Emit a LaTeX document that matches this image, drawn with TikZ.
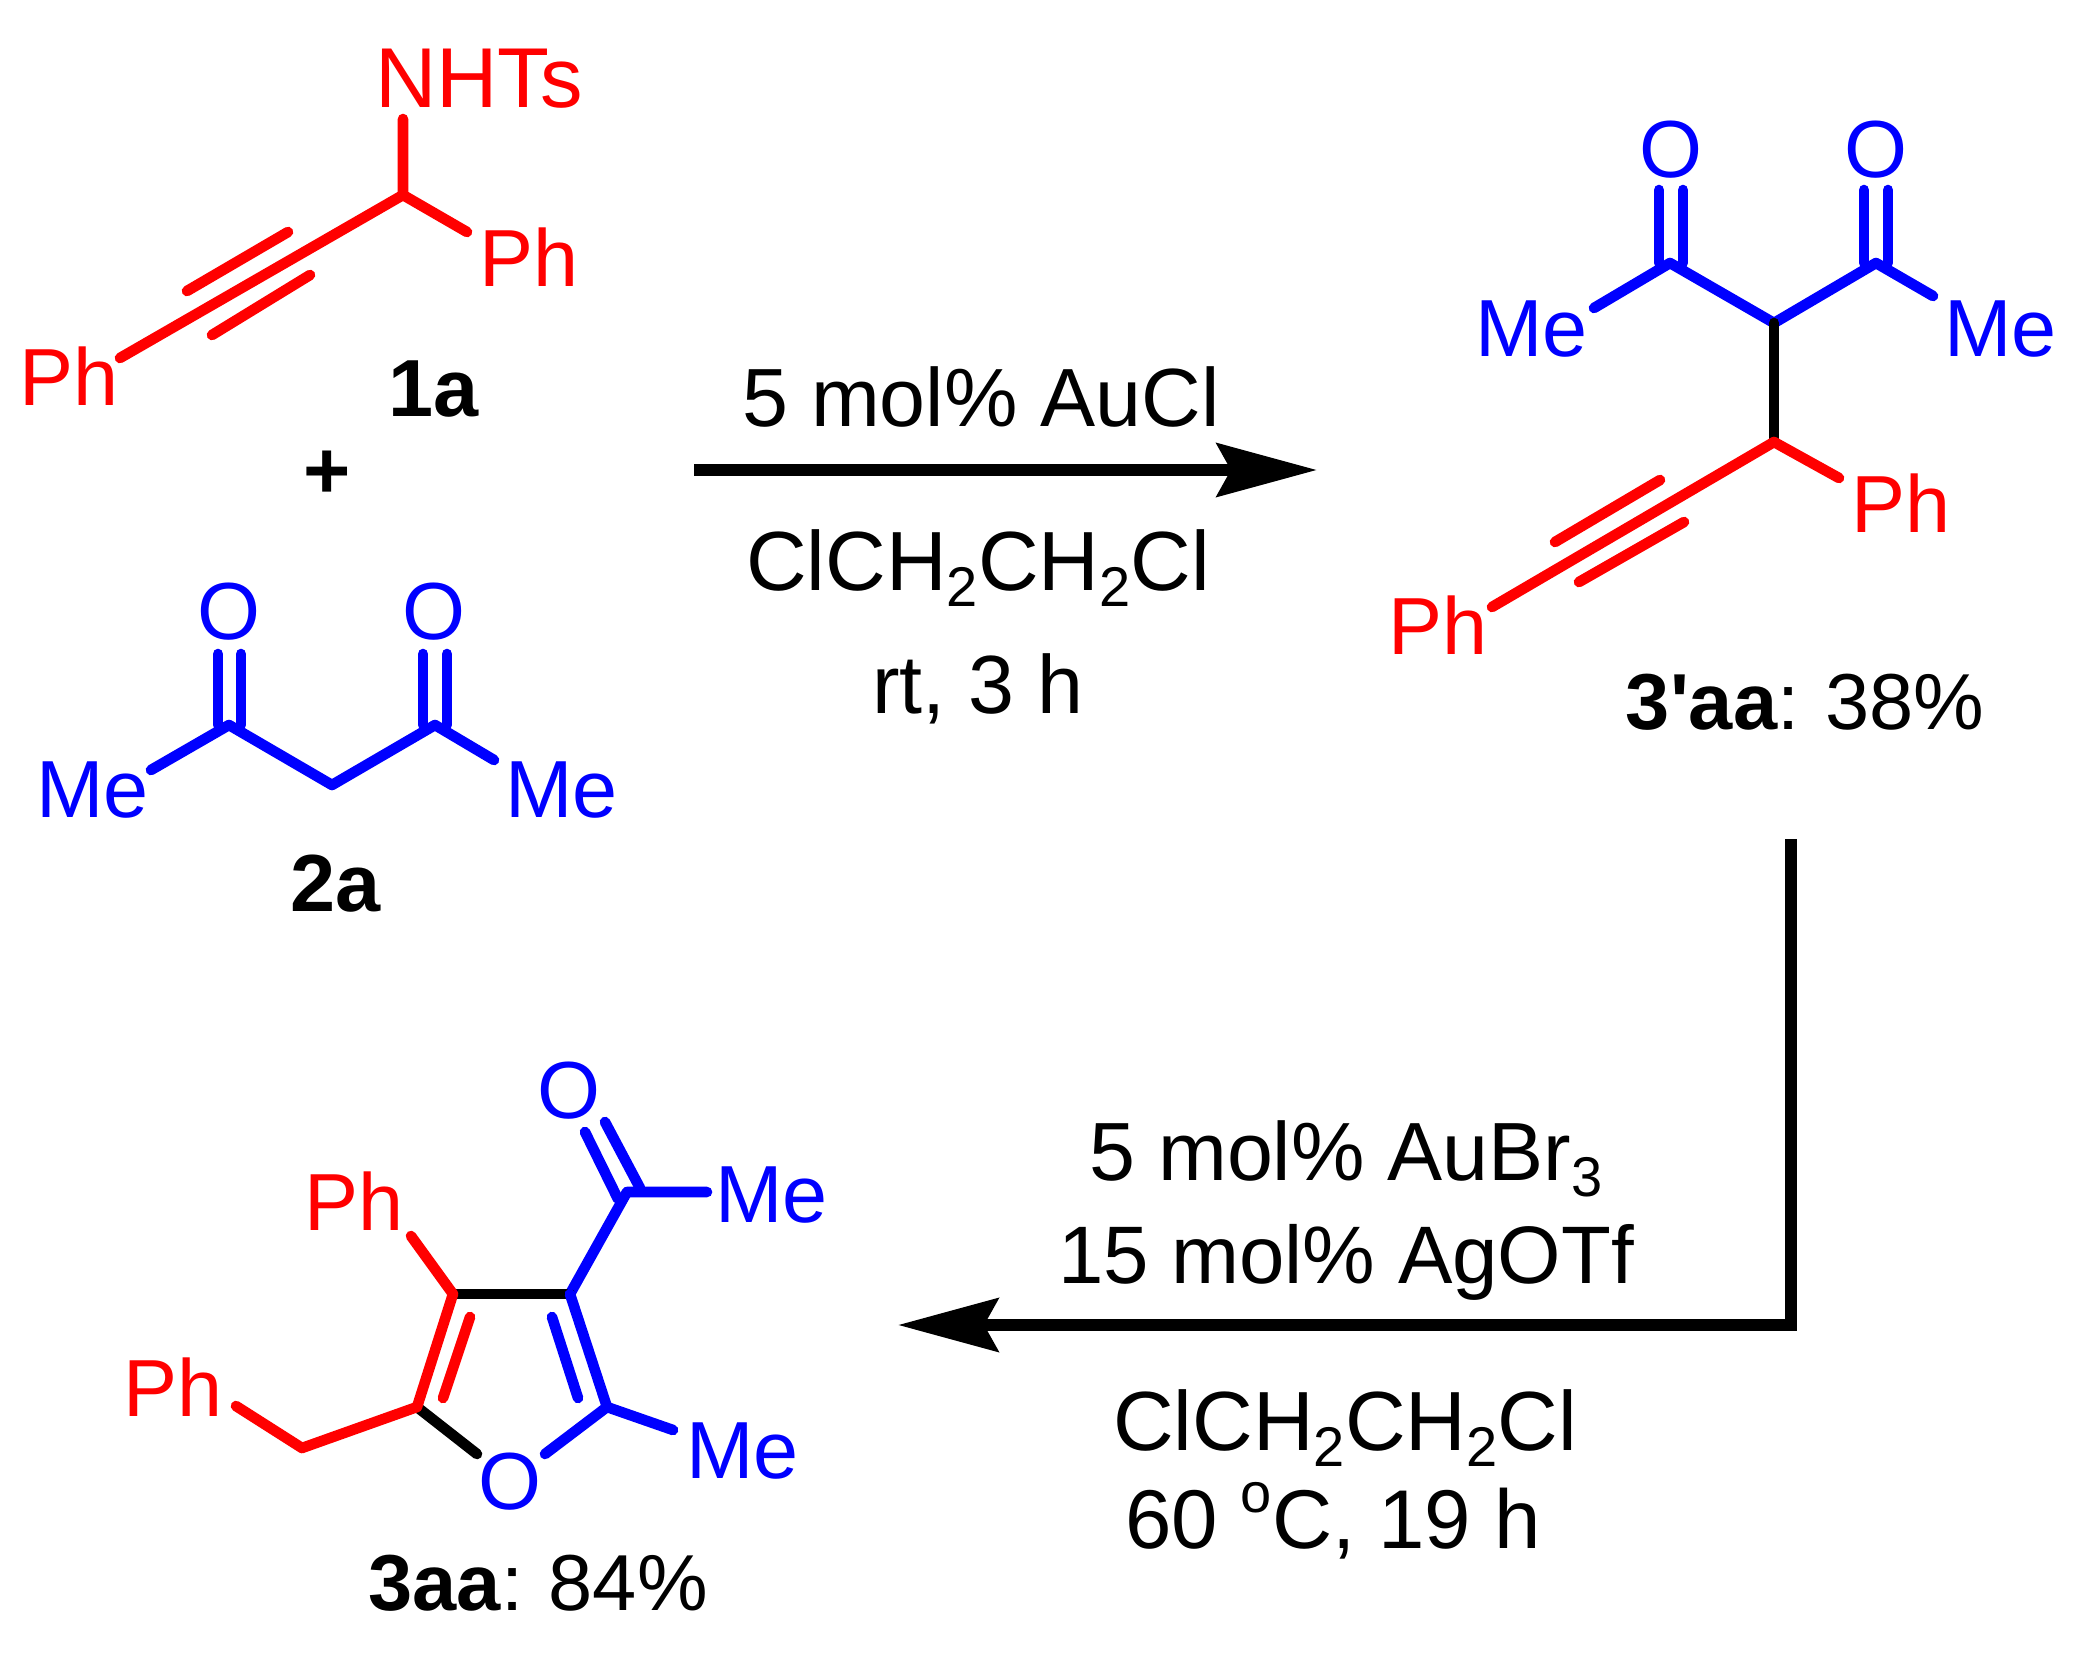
\documentclass[tikz,border=0pt]{standalone}
\usepackage{fontspec}
\setmainfont{Liberation Sans}
\newfontfamily\rawsans{Liberation Sans}
\usetikzlibrary{arrows.meta}
\definecolor{cr}{RGB}{255,0,0}
\definecolor{cb}{RGB}{0,0,255}
\newcommand{\mydn}[1]{\raisebox{-0.2em}{\fontsize{28}{28}\selectfont #1}}
\newcommand{\myup}[1]{\raisebox{0.42em}{\fontsize{28}{28}\selectfont #1}}
\tikzset{
  txt/.style={inner sep=0pt,outer sep=0pt,font=\fontsize{40.5}{40.5}\selectfont,anchor=base west},
  mid/.style={txt,anchor=base},
  cond/.style={mid,font=\fontsize{41.3}{41.3}\selectfont},
  yld/.style={mid,font=\fontsize{39.7}{39.7}\selectfont},
  bnd/.style={line width=5.3pt,line cap=round,line join=round},
  rb/.style={bnd,draw=cr},
  bb/.style={bnd,draw=cb},
  kb/.style={bnd,draw=black},
  rxn/.style={line width=6pt,draw=black,line cap=butt,line join=miter,-{Stealth[length=50pt,width=26.5pt,inset=7pt]}},
}
\begin{document}
\begin{tikzpicture}[x=0.5pt,y=-0.5pt]
\useasboundingbox (0,0) rectangle (2085,1671);
% 1a
\node[txt,text=cr,font=\fontsize{42.5}{42.5}\selectfont] (nhts) at (375,107) {NHTs};
\node[txt,text=cr] (ph1) at (479,286) {Ph};
\node[txt,text=cr] (ph2) at (19,405) {Ph};
\node[mid] (l1a) at (434,416) {\textbf{1a}};
\node[mid] (plus) at (327,498) {\textbf{+}};
\coordinate (a1) at (403,195); \coordinate (a2) at (403,119); \coordinate (a3) at (467,232); \coordinate (a4) at (120,358);
\coordinate (a5) at (288,232); \coordinate (a6) at (187,291); \coordinate (a7) at (310,275); \coordinate (a8) at (212,335);
\draw[rb] (a2)--(a1)--(a3);
\draw[rb] (a1)--(a4);
\draw[rb] (a5)--(a6);
\draw[rb] (a7)--(a8);
% 2a
\node[mid,text=cb] (o1) at (229,639) {O};
\node[mid,text=cb] (o2) at (434,639) {O};
\node[txt,text=cb] (me1) at (36,817) {Me};
\node[txt,text=cb] (me2) at (505,817) {Me};
\node[mid] (l2a) at (336,911) {\textbf{2a}};
\coordinate (b1) at (229,725); \coordinate (b2) at (332,785); \coordinate (b3) at (435,725);
\coordinate (b4) at (151,770); \coordinate (b5) at (494,760);
\coordinate (b6) at (218,725); \coordinate (b7) at (218,654); \coordinate (b8) at (241,725); \coordinate (b9) at (241,654);
\coordinate (b10) at (423,725); \coordinate (b11) at (423,654); \coordinate (b12) at (447,725); \coordinate (b13) at (447,654);
\draw[bb] (b4)--(b1)--(b2)--(b3)--(b5);
\draw[bb] (b6)--(b7); \draw[bb] (b8)--(b9); \draw[bb] (b10)--(b11); \draw[bb] (b12)--(b13);
% arrow 1
\coordinate (r1) at (694,470); \coordinate (r2) at (1317,470);
\draw[rxn] (r1)--(r2);
\node[cond] (t1) at (981,426) {5 mol\% AuCl};
\node[cond,font=\fontsize{42}{42}\selectfont] (t2) at (978,590) {ClCH\mydn{2}CH\mydn{2}Cl};
\node[cond] (t3) at (978,713) {rt, 3 h};
% 3'aa
\node[mid,text=cb] (o3) at (1671,177) {O};
\node[mid,text=cb] (o4) at (1876,177) {O};
\node[txt,text=cb] (me3) at (1475,356) {Me};
\node[txt,text=cb] (me4) at (1944,356) {Me};
\node[txt,text=cr] (ph3) at (1851,532) {Ph};
\node[txt,text=cr] (ph4) at (1388,654) {Ph};
\node[yld] (l3p) at (1805,729) {\textbf{3{\rawsans '}aa}:\hspace{-2pt} 38\%};
\coordinate (c1) at (1670,263); \coordinate (c2) at (1774,323); \coordinate (c3) at (1876,263);
\coordinate (c4) at (1594,308); \coordinate (c5) at (1933,296); \coordinate (c6) at (1774,442);
\coordinate (c7) at (1839,478); \coordinate (c8) at (1492,607);
\coordinate (c9) at (1660,480); \coordinate (c10) at (1555,542); \coordinate (c11) at (1684,522); \coordinate (c12) at (1579,582);
\coordinate (c13) at (1659,263); \coordinate (c14) at (1659,190); \coordinate (c15) at (1683,263); \coordinate (c16) at (1683,190);
\coordinate (c17) at (1864,263); \coordinate (c18) at (1864,190); \coordinate (c19) at (1888,263); \coordinate (c20) at (1888,190);
\draw[bb] (c4)--(c1)--(c2)--(c3)--(c5);
\draw[bb] (c13)--(c14); \draw[bb] (c15)--(c16); \draw[bb] (c17)--(c18); \draw[bb] (c19)--(c20);
\draw[kb] (c2)--(c6);
\draw[rb] (c8)--(c6)--(c7);
\draw[rb] (c9)--(c10); \draw[rb] (c11)--(c12);
% arrow 2
\coordinate (s1) at (1791,839); \coordinate (s2) at (1791,1325); \coordinate (s3) at (898,1325);
\draw[rxn] (s1)--(s2)--(s3);
\node[cond] (t4) at (1346,1180) {5 mol\% AuBr\mydn{3}};
\node[cond,font=\fontsize{40.8}{40.8}\selectfont] (t5) at (1346,1283) {15 mol\% AgOTf};
\node[cond,font=\fontsize{42}{42}\selectfont] (t6) at (1345,1450) {ClCH\mydn{2}CH\mydn{2}Cl};
\node[cond,font=\fontsize{41.7}{41.7}\selectfont] (t7) at (1333,1548) {60 \myup{o}C, 19 h};
% 3aa
\node[mid,text=cb] (o5) at (569,1118) {O};
\node[txt,text=cb] (me5) at (715,1222) {Me};
\node[txt,text=cr] (ph5) at (304,1230) {Ph};
\node[txt,text=cr] (ph6) at (123,1416) {Ph};
\node[mid,text=cb] (o6) at (510,1509) {O};
\node[txt,text=cb] (me6) at (686,1478) {Me};
\node[yld] (l3) at (538,1610) {\textbf{3aa}:\hspace{-2pt} 84\%};
\coordinate (d1) at (627,1192); \coordinate (d2) at (707,1192); \coordinate (d3) at (570,1294);
\coordinate (d4) at (453,1294); \coordinate (d5) at (411,1236); \coordinate (d6) at (417,1407);
\coordinate (d7) at (607,1407); \coordinate (d8) at (470,1317); \coordinate (d9) at (443,1398);
\coordinate (d10) at (552,1317); \coordinate (d11) at (578,1398); \coordinate (d12) at (302,1448);
\coordinate (d13) at (236,1406); \coordinate (d14) at (477,1454); \coordinate (d15) at (545,1454);
\coordinate (d16) at (673,1430); \coordinate (d17) at (585,1132); \coordinate (d18) at (618,1199);
\coordinate (d19) at (605,1122); \coordinate (d20) at (640,1188);
\draw[bb] (d3)--(d1)--(d2);
\draw[bb] (d17)--(d18); \draw[bb] (d19)--(d20);
\draw[kb] (d4)--(d3);
\draw[kb] (d6)--(d14);
\draw[rb] (d5)--(d4)--(d6)--(d12)--(d13);
\draw[rb] (d8)--(d9);
\draw[bb] (d3)--(d7)--(d15);
\draw[bb] (d7)--(d16);
\draw[bb] (d10)--(d11);
\end{tikzpicture}
\end{document}
